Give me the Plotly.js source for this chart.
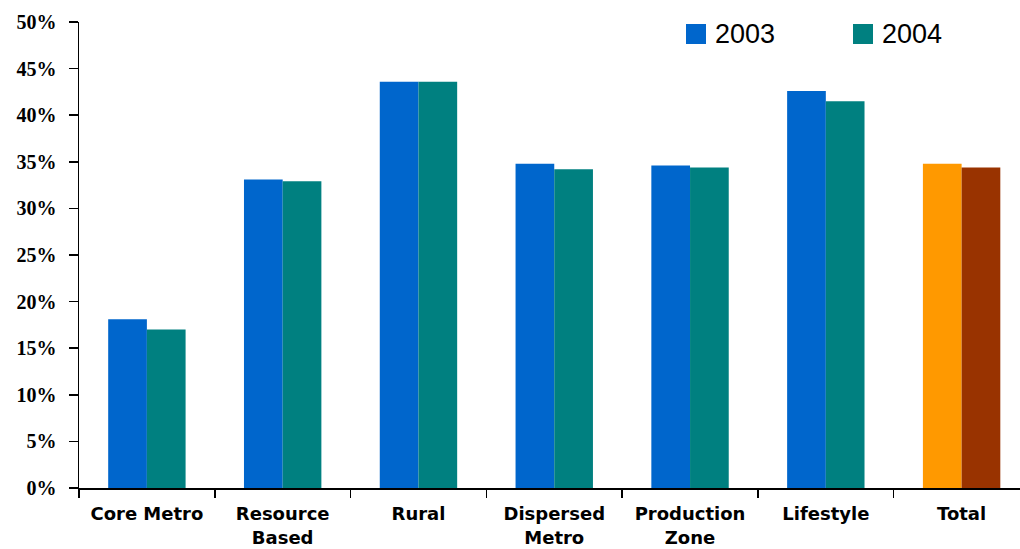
<!DOCTYPE html>
<html>
<head>
<meta charset="utf-8">
<script src="https://cdn.plot.ly/plotly-3.0.1.min.js"></script>
<style>html,body{margin:0;padding:0;background:#fff;}#chart{width:1020px;height:549px;}</style>
</head>
<body>
<div id="chart"></div>
<script>
const categories = ["Core Metro", "Resource<br>Based", "Rural", "Dispersed<br>Metro", "Production<br>Zone", "Lifestyle", "Total"];
const values2003 = [18.1, 33.1, 43.6, 34.8, 34.6, 42.6, 34.8];
const values2004 = [17.0, 32.9, 43.6, 34.2, 34.4, 41.5, 34.4];
const seriesNames = ["2003", "2004"];
const yTicks = [0, 5, 10, 15, 20, 25, 30, 35, 40, 45, 50];
const yTickLabels = yTicks.map(v => v + "%");

const blue = "#0066CC", teal = "#008080", orange = "#FF9900", brown = "#993300";
const colors2003 = categories.map((c, i) => i === categories.length - 1 ? orange : blue);
const colors2004 = categories.map((c, i) => i === categories.length - 1 ? brown : teal);

const traces = [
  {type: "bar", name: seriesNames[0], x: categories, y: values2003,
   marker: {color: colors2003, line: {width: 0}}, showlegend: false, hoverinfo: "x+y"},
  {type: "bar", name: seriesNames[1], x: categories, y: values2004,
   marker: {color: colors2004, line: {width: 0}}, showlegend: false, hoverinfo: "x+y"}
];

const legendFont = {family: "'Liberation Sans', Arial, sans-serif", size: 27, color: "#000"};
const layout = {
  width: 1020, height: 549,
  margin: {l: 79, r: 0, t: 22, b: 61},
  paper_bgcolor: "#fff", plot_bgcolor: "#fff",
  barmode: "group", bargap: 0.43, bargroupgap: 0,
  showlegend: false,
  xaxis: {
    type: "category", range: [-0.5, 6.43],
    showline: true, linecolor: "#000", linewidth: 1.5,
    ticks: "outside", tickson: "boundaries", ticklen: 8, tickcolor: "#000", tickwidth: 1.5,
    tickfont: {family: "'DejaVu Sans', sans-serif", size: 18, color: "#000", weight: "bold"},
    ticklabelstandoff: 9,
    showgrid: false, zeroline: false
  },
  yaxis: {
    range: [0, 50], tickmode: "array", tickvals: yTicks, ticktext: yTickLabels,
    showline: true, linecolor: "#000", linewidth: 1.5,
    ticks: "outside", ticklen: 9, tickcolor: "#000", tickwidth: 1.5,
    tickfont: {family: "'Liberation Serif', 'Times New Roman', serif", size: 20, color: "#000", weight: "bold"},
    ticklabelstandoff: 8,
    showgrid: false, zeroline: false
  },
  shapes: [
    {type: "rect", xref: "paper", yref: "paper", x0: (686-79)/941, x1: (706-79)/941, y0: (488-44)/466, y1: (488-24)/466, fillcolor: blue, line: {width: 0}},
    {type: "rect", xref: "paper", yref: "paper", x0: (853-79)/941, x1: (873-79)/941, y0: (488-44)/466, y1: (488-24)/466, fillcolor: teal, line: {width: 0}}
  ],
  annotations: [
    {xref: "paper", yref: "paper", x: (713-79)/941, y: (488-34)/466, xanchor: "left", yanchor: "middle", text: seriesNames[0], showarrow: false, font: legendFont},
    {xref: "paper", yref: "paper", x: (880-79)/941, y: (488-34)/466, xanchor: "left", yanchor: "middle", text: seriesNames[1], showarrow: false, font: legendFont}
  ]
};

Plotly.newPlot("chart", traces, layout, {displayModeBar: false, staticPlot: true});
</script>
</body>
</html>
